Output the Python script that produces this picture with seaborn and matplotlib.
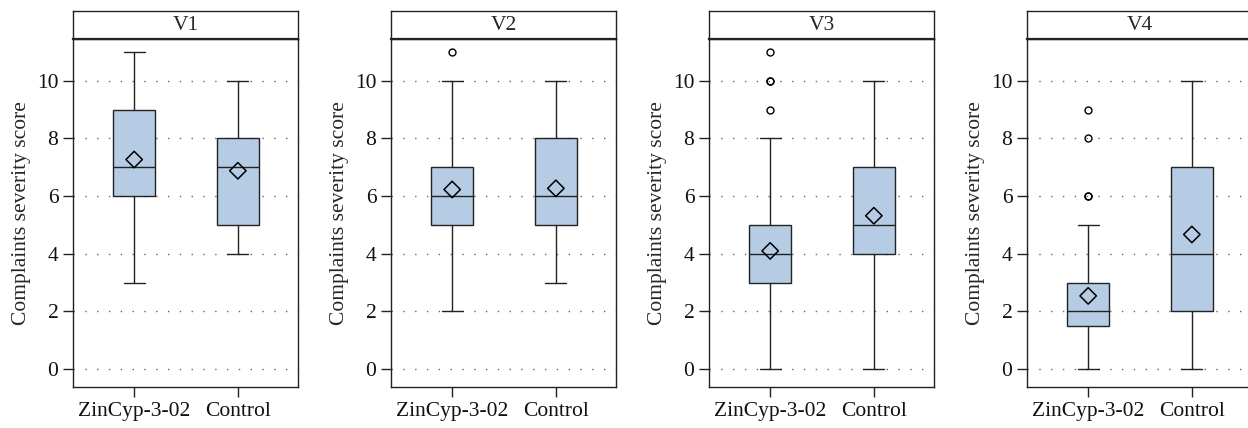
import matplotlib
matplotlib.use("Agg")
import matplotlib.pyplot as plt
import seaborn as sns
import pandas as pd

# visits and groups
visits = ["V1", "V2", "V3", "V4"]
groups = ["ZinCyp-3-02", "Control"]

# box stats per visit: [ZinCyp, Control]
whislo = [[3, 4], [2, 3], [0, 0], [0, 0]]
q1 = [[6, 5], [5, 5], [3, 4], [1.5, 2]]
med = [[7, 7], [6, 6], [4, 5], [2, 4]]
q3 = [[9, 8], [7, 8], [5, 7], [3, 7]]
whishi = [[11, 10], [10, 10], [8, 10], [5, 10]]
fliers = [[[], []], [[11], []], [[9, 10, 10, 11], []], [[6, 6, 8, 9], []]]
means = [[7.27, 6.88], [6.23, 6.27], [4.10, 5.32], [2.54, 4.67]]

yticks = [0, 2, 4, 6, 8, 10]

box_color = "#b5cce4"
line_color = "#222222"

sns.set_style("ticks")
plt.rcParams["font.family"] = ["Liberation Serif", "DejaVu Serif"]
plt.rcParams["font.size"] = 15.5

fig = plt.figure(figsize=(12.48, 4.28), dpi=100)

left0 = 73 / 1248
step = 318 / 1248
width = 225 / 1248
ax_bottom = 1 - 387 / 428
ax_top = 1 - 39 / 428
strip_top = 1 - 11 / 428

for i, v in enumerate(visits):
    left = left0 + i * step
    ax = fig.add_axes([left, ax_bottom, width, ax_top - ax_bottom])

    # dotted horizontal grid
    for t in yticks:
        ax.axhline(t, color="#666666", lw=1.0, ls=(0, (1, 7.5)), zorder=0)

    stats = []
    for j, g in enumerate(groups):
        stats.append(dict(whislo=whislo[i][j], q1=q1[i][j], med=med[i][j],
                          q3=q3[i][j], whishi=whishi[i][j],
                          fliers=fliers[i][j], label=g))
    ax.bxp(stats, positions=[0, 1], widths=0.4, capwidths=0.2,
           patch_artist=True, showfliers=True,
           boxprops=dict(facecolor=box_color, edgecolor=line_color, lw=1.0),
           whiskerprops=dict(color=line_color, lw=1.0),
           capprops=dict(color=line_color, lw=1.0),
           medianprops=dict(color=line_color, lw=1.0),
           flierprops=dict(marker="o", markersize=5, markerfacecolor="none",
                           markeredgecolor="black", markeredgewidth=1.0))

    mdf = pd.DataFrame({"x": [0, 1], "y": means[i]})
    sns.scatterplot(data=mdf, x="x", y="y", ax=ax, marker="D", s=70,
                    color="black", facecolor="none", edgecolor="black",
                    linewidth=1.1, zorder=5)

    ax.set_xlim(-0.59, 1.58)
    ax.set_ylim(-0.62, 11.45)
    ax.set_yticks(yticks)
    ax.set_xticks([0, 1])
    ax.set_xticklabels(groups)
    ax.set_xlabel("")
    ax.set_ylabel("Complaints severity score")
    ax.tick_params(direction="out", length=7, width=1.0, color=line_color,
                   labelcolor="#111111")
    for s in ax.spines.values():
        s.set_linewidth(1.0)
        s.set_color(line_color)

    # strip with visit label
    sax = fig.add_axes([left, ax_top, width, strip_top - ax_top])
    sax.set_xticks([])
    sax.set_yticks([])
    for s in sax.spines.values():
        s.set_linewidth(1.0)
        s.set_color(line_color)
    sax.spines["bottom"].set_linewidth(1.6)
    sax.text(0.5, 0.5, v, ha="center", va="center", transform=sax.transAxes,
             fontsize=15.5)

fig.savefig("out.png", dpi=100)
